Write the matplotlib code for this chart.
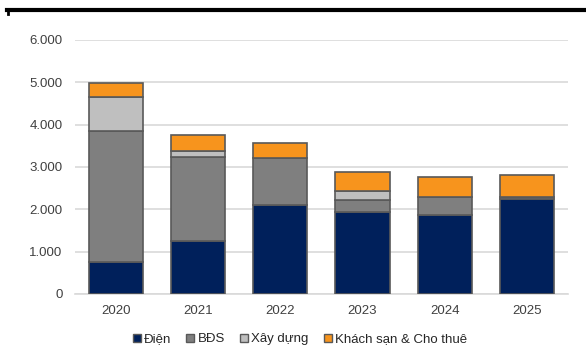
import matplotlib
matplotlib.use("Agg")
import matplotlib.pyplot as plt
from matplotlib.patches import Patch
from matplotlib.lines import Line2D
import numpy as np

plt.rcParams['font.family'] = ['Liberation Sans', 'DejaVu Sans']

years = ["2020", "2021", "2022", "2023", "2024", "2025"]
dien = [760, 1250, 2095, 1930, 1865, 2250]
bds = [3080, 1995, 1120, 285, 435, 50]
xay_dung = [810, 140, 0, 225, 0, 0]
khach_san = [340, 370, 360, 440, 470, 510]

series_names = ["Điện", "BĐS", "Xây dựng", "Khách sạn & Cho thuê"]
colors = ["#00205B", "#7F7F7F", "#BFBFBF", "#F7941D"]
yticks = [0, 1000, 2000, 3000, 4000, 5000, 6000]
ytick_labels = ["0", "1.000", "2.000", "3.000", "4.000", "5.000", "6.000"]

fig = plt.figure(figsize=(5.86, 3.47), dpi=100)
ax = fig.add_axes([0.128, 0.153, 0.841, 0.732])

x = np.arange(len(years))
bottom = np.zeros(len(years))
for vals, c in zip([dien, bds, xay_dung, khach_san], colors):
    v = np.array(vals, dtype=float)
    ax.bar(x, v, bottom=bottom, width=0.66, color=c, edgecolor="#595959",
           linewidth=1.2, zorder=3)
    bottom += v

ax.set_ylim(0, 6000)
ax.set_xlim(-0.5, len(years) - 0.5)
ax.set_yticks(yticks)
ax.set_yticklabels(ytick_labels)
ax.set_xticks(x)
ax.set_xticklabels(years)
ax.yaxis.grid(True, color="#D9D9D9", linewidth=1.2, zorder=0)
ax.set_axisbelow(True)
for s in ["top", "right", "left"]:
    ax.spines[s].set_visible(False)
ax.spines["bottom"].set_color("#D9D9D9")
ax.spines["bottom"].set_linewidth(1.2)
ax.tick_params(axis="both", length=0, labelsize=9.5, colors="#404040")
ax.tick_params(axis="y", pad=9)
ax.tick_params(axis="x", pad=8)

handles = [Patch(facecolor=c, edgecolor="#595959", linewidth=1.0) for c in colors]
fig.legend(handles, series_names, loc="center", bbox_to_anchor=(0.512, 0.022),
           ncol=4, frameon=False, fontsize=9.5, handlelength=0.6, handleheight=0.6,
           handletextpad=0.25, columnspacing=1.15, labelcolor="#262626")

fig.add_artist(Line2D([0.012, 1.0], [0.971, 0.971], color="black", linewidth=3,
                      transform=fig.transFigure))
fig.add_artist(Line2D([0.0135, 0.0135], [0.971, 0.960], color="black", linewidth=2,
                      transform=fig.transFigure))

fig.savefig("out.png", dpi=100)
